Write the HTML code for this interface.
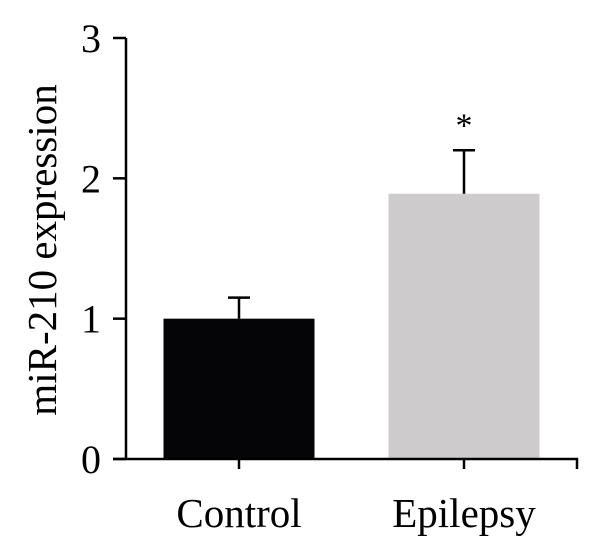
<!DOCTYPE html>
<html><head><meta charset="utf-8"><style>
html,body{margin:0;padding:0;background:#fff;}
svg{display:block;font-family:"Liberation Serif",serif;}
</style></head><body>
<svg id="chart" width="600" height="553"></svg>
<script>
const categories = ["Control", "Epilepsy"];
const values = [1.0, 1.89];
const errors = [0.15, 0.31];
const colors = ["#050508", "#cdcbcc"];
const yTicks = [0, 1, 2, 3];
const sig = ["", "*"];

const NS = "http://www.w3.org/2000/svg";
const svg = document.getElementById("chart");
const x0 = 126, x1 = 577, yBase = 459, yTop = 38;
function y(v){ return yBase - (v/3)*(yBase-yTop); }
const centers = [239, 464];
const barW = 151;
function cx(i){ return centers[i]; }
function mk(tag, attrs){ const e=document.createElementNS(NS,tag); for(const k in attrs) e.setAttribute(k,attrs[k]); svg.appendChild(e); return e; }

categories.forEach((c,i)=>{
  const b = mk("rect",{x:cx(i)-barW/2,y:y(values[i]),width:barW,height:yBase-y(values[i]),fill:colors[i]});
  
  
  const e = mk("path",{d:`M${cx(i)} ${y(values[i])} V${y(values[i]+errors[i])} M${cx(i)-11} ${y(values[i]+errors[i])} H${cx(i)+11}`,stroke:"#000","stroke-width":2.5,fill:"none"});
  
  
  const t = mk("text",{x:cx(i),y:527,"font-size":41,"text-anchor":"middle",fill:"#000"});
  t.textContent = c;
  
  
  const tk = mk("line",{x1:cx(i),x2:cx(i),y1:yBase,y2:yBase+10,stroke:"#000","stroke-width":2.5});
  
  
  if(sig[i]){
    const s = mk("text",{x:cx(i),y:y(values[i]+errors[i])-14,"font-size":34,"text-anchor":"middle",fill:"#000"});
    s.textContent = sig[i];
    
    
  }
});

yTicks.forEach(v=>{
  const l = mk("line",{x1:113,x2:x0,y1:y(v),y2:y(v),stroke:"#000","stroke-width":2.5});
  
  
  const t = mk("text",{x:101,y:y(v)+14,"font-size":40,"text-anchor":"end",fill:"#000"});
  t.textContent = v;
  
  
});

const ya = mk("line",{x1:x0,x2:x0,y1:yTop,y2:yBase+1,stroke:"#000","stroke-width":2.5});


const xa = mk("path",{d:`M113 ${yBase} H${x1} V${yBase+10}`,stroke:"#000","stroke-width":2.5,fill:"none"});



const yt = mk("text",{x:0,y:0,"font-size":41,"text-anchor":"middle",fill:"#000",transform:"translate(56,250) rotate(-90)"});
yt.textContent = "miR-210 expression";


</script>
</body></html>
